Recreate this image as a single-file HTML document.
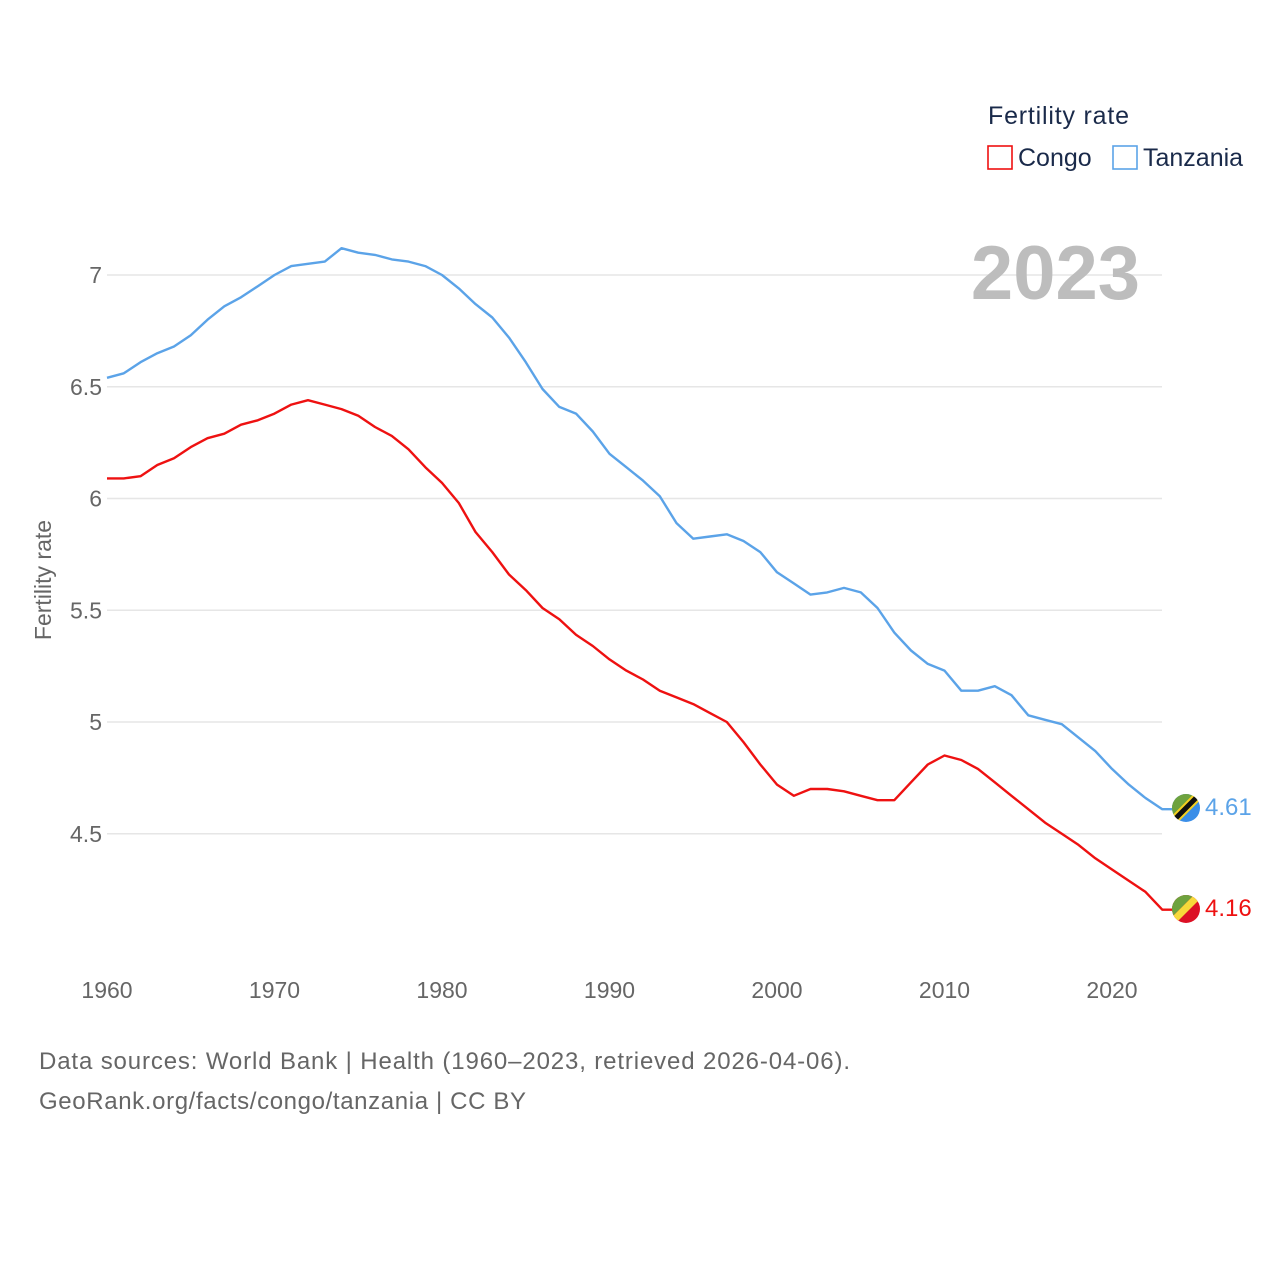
<!DOCTYPE html>
<html><head><meta charset="utf-8"><style>
body{margin:0;background:#fff;font-family:"Liberation Sans",sans-serif;}
</style></head><body>
<svg width="1280" height="1280" xmlns="http://www.w3.org/2000/svg" id="chart">
<rect width="1280" height="1280" fill="#fff"/>
<g id="grid"></g>
<g id="yt" font-size="23" fill="#666" text-anchor="end"></g>
<g id="xt" font-size="23" fill="#666" text-anchor="middle"></g>
<text transform="translate(51,580) rotate(-90)" text-anchor="middle" font-size="23" fill="#666">Fertility rate</text>
<text x="1140" y="299" text-anchor="end" font-size="76" font-weight="bold" fill="#bdbdbd">2023</text>
<g id="lines"></g>
<g>
<text x="988" y="124" font-size="25" fill="#1a2a4a" textLength="141">Fertility rate</text>
<g><rect x="988" y="146" width="24" height="23" fill="none" stroke="#ee1111" stroke-width="1.6"/><text x="1018" y="166" font-size="25" fill="#1a2a4a">Congo</text></g>
<g><rect x="1113" y="146" width="24" height="23" fill="none" stroke="#5ba3e8" stroke-width="1.6"/><text x="1143" y="166" font-size="25" fill="#1a2a4a">Tanzania</text></g>
</g>
<g>
<clipPath id="ct"><circle cx="1186" cy="808" r="14"/></clipPath>
<g clip-path="url(#ct)"><rect x="1170" y="792" width="32" height="32" fill="#3a8ee8"/><polygon points="1170,792 1202,792 1170,824" fill="#6ea23e"/><line x1="1202" y1="792" x2="1170" y2="824" stroke="#f5d020" stroke-width="9"/><line x1="1202" y1="792" x2="1170" y2="824" stroke="#111" stroke-width="5"/></g>
</g>
<g>
<clipPath id="cc"><circle cx="1186" cy="909" r="14"/></clipPath>
<g clip-path="url(#cc)"><rect x="1170" y="893" width="32" height="32" fill="#dc1025"/><polygon points="1170,893 1196,893 1170,919" fill="#6ea23e"/><polygon points="1196,893 1206,893 1170,929 1170,919" fill="#f7d93a"/></g>
</g>
<text x="1205" y="815" font-size="24" fill="#5ba3e8">4.61</text>
<text x="1205" y="916" font-size="24" fill="#ee1111">4.16</text>
<text x="39" y="1069" font-size="24" fill="#666" textLength="811">Data sources: World Bank | Health (1960–2023, retrieved 2026-04-06).</text>
<text x="39" y="1109" font-size="24" fill="#666" textLength="487">GeoRank.org/facts/congo/tanzania | CC BY</text>
</svg>
<script>
const years=[];for(let y=1960;y<=2023;y++)years.push(y);
const tanzania=[6.54,6.56,6.61,6.65,6.68,6.73,6.80,6.86,6.90,6.95,7.00,7.04,7.05,7.06,7.12,7.10,7.09,7.07,7.06,7.04,7.00,6.94,6.87,6.81,6.72,6.61,6.49,6.41,6.38,6.30,6.20,6.14,6.08,6.01,5.89,5.82,5.83,5.84,5.81,5.76,5.67,5.62,5.57,5.58,5.60,5.58,5.51,5.40,5.32,5.26,5.23,5.14,5.14,5.16,5.12,5.03,5.01,4.99,4.93,4.87,4.79,4.72,4.66,4.61];
const congo=[6.09,6.09,6.10,6.15,6.18,6.23,6.27,6.29,6.33,6.35,6.38,6.42,6.44,6.42,6.40,6.37,6.32,6.28,6.22,6.14,6.07,5.98,5.85,5.76,5.66,5.59,5.51,5.46,5.39,5.34,5.28,5.23,5.19,5.14,5.11,5.08,5.04,5.00,4.91,4.81,4.72,4.67,4.70,4.70,4.69,4.67,4.65,4.65,4.73,4.81,4.85,4.83,4.79,4.73,4.67,4.61,4.55,4.50,4.45,4.39,4.34,4.29,4.24,4.16];
const yTicks=[4.5,5,5.5,6,6.5,7];
const yTickLabels=["4.5","5","5.5","6","6.5","7"];
const xTicks=[1960,1970,1980,1990,2000,2010,2020];
const X=y=>107+(y-1960)*16.75;
const Y=v=>275+(7-v)*223.5;
const NS="http://www.w3.org/2000/svg";
const grid=document.getElementById('grid'),yt=document.getElementById('yt'),xt=document.getElementById('xt'),lines=document.getElementById('lines');
yTicks.forEach((v,i)=>{
 const l=document.createElementNS(NS,'line');
 
 
 l.setAttribute('x1',107);l.setAttribute('x2',1162);l.setAttribute('y1',Y(v));l.setAttribute('y2',Y(v));
 l.setAttribute('stroke','#e6e6e6');l.setAttribute('stroke-width','1.5');grid.appendChild(l);
 const t=document.createElementNS(NS,'text');
 
 
 t.setAttribute('x',102);t.setAttribute('y',Y(v)+8);t.textContent=yTickLabels[i];yt.appendChild(t);
});
xTicks.forEach(v=>{
 const t=document.createElementNS(NS,'text');
 
 
 t.setAttribute('x',X(v));t.setAttribute('y',998);t.textContent=v;xt.appendChild(t);
});
function draw(vals,color,name){
 let d=vals.map((v,i)=>(i?'L':'M')+X(years[i]).toFixed(1)+','+Y(v).toFixed(1)).join(' ');
 d+=' L'+(X(2023)+10).toFixed(1)+','+Y(vals[vals.length-1]).toFixed(1);
 const p=document.createElementNS(NS,'path');
 
 
 p.setAttribute('d',d);p.setAttribute('fill','none');p.setAttribute('stroke',color);p.setAttribute('stroke-width','2.4');p.setAttribute('stroke-linejoin','round');
 lines.appendChild(p);
}
draw(tanzania,'#5ba3e8','line-tanzania');
draw(congo,'#ee1111','line-congo');
</script>
</body></html>
